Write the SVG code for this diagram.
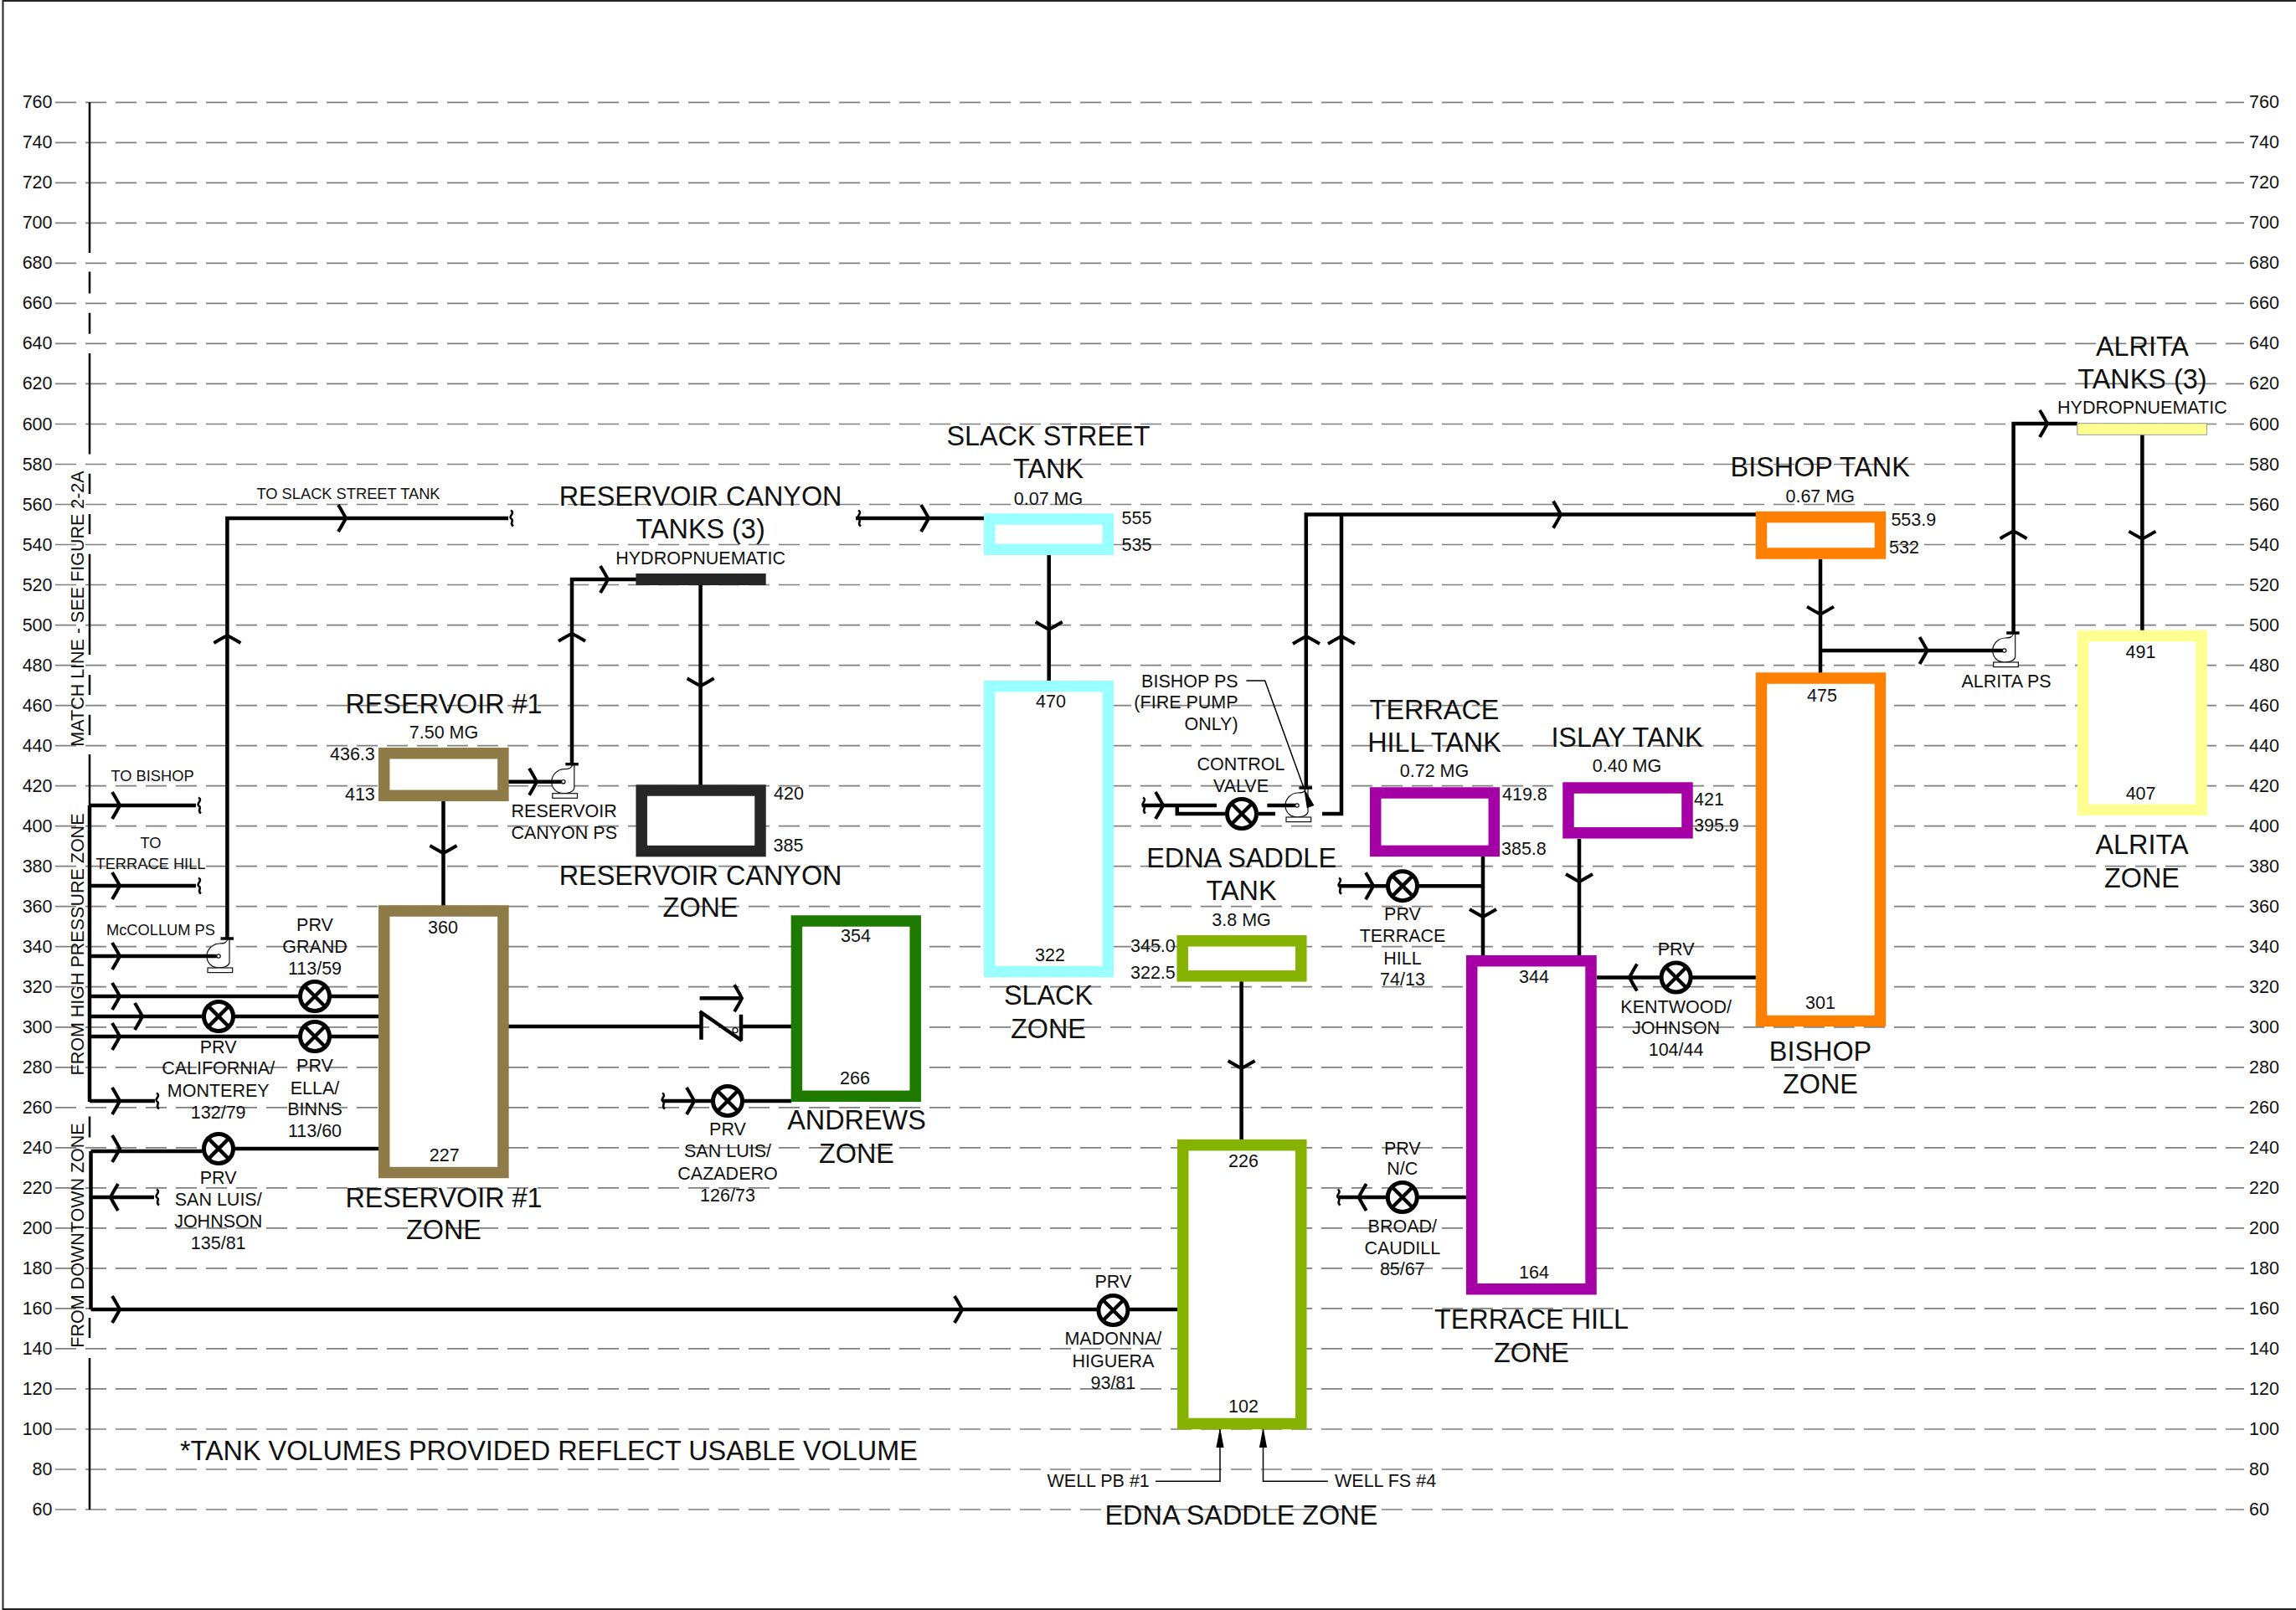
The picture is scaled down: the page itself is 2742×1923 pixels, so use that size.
<svg xmlns="http://www.w3.org/2000/svg" width="2742" height="1923" viewBox="0 0 2742 1923">
<style>
text,tspan{font-family:"Liberation Sans",Arial,sans-serif;fill:#111;dominant-baseline:central}
.s{font-size:21.5px;text-anchor:middle}
.sl{font-size:21.5px;text-anchor:start}
.se{font-size:21.5px;text-anchor:end}
.x{font-size:18.3px;text-anchor:middle}
.b{font-size:32.4px;text-anchor:middle}
.grid{stroke:#808080;stroke-width:1.7;stroke-dasharray:25 11;fill:none}
.axis{stroke:#111;stroke-width:2.6;fill:none}
.pipe{stroke:#000;stroke-width:4.5;fill:none}
.thin{stroke:#000;stroke-width:1.5;fill:none}
.wall{stroke-width:13.5;fill:#fff}
.cyan{stroke:#99ffff}.brown{stroke:#8e7b48}.coal{stroke:#262626}.leaf{stroke:#1f7a00}.lime{stroke:#86b300}.purple{stroke:#a500a5}.orange{stroke:#ff8000}.yellow{stroke:#ffff91}
.chev{stroke:#000;stroke-width:4;fill:none}
.brk{stroke:#000;stroke-width:2.6;fill:none}
.prvc{stroke:#000;stroke-width:5;fill:#fff}
.pm{stroke:#111;stroke-width:1.2;fill:#fff}
</style>
<defs>
<path id="chev" class="chev" d="M-9,-16 Q-3,-6 0,0 Q-3,6 -9,16"/>
<path id="brk" class="brk" d="M-1,-9.5 C5,-6 -5,-2 0,1 C3,3 -3,6 2,9.5"/>
<g id="prv"><circle class="prvc" r="17.5"/><path class="pipe" d="M-12,-12 L12,12 M12,-12 L-12,12"/></g>
<g id="pump">
<path class="pm" d="M11,-21 C10,-16 7,-15 1,-15 C-7,-15 -14,-8 -14,0 C-14,8 -8,14 0,14 C6,14 12,12 13,8 L13,-21 Z"/>
<rect class="pm" x="-13" y="14" width="29.7" height="5.6"/>
<path stroke="#000" stroke-width="3.5" d="M2.5,-21 H18"/>
<circle r="2.2" fill="#fff" stroke="#000" stroke-width="1.2"/>
</g>
<path id="solid" d="M0,0 L-4.6,24 L4.6,24 Z" fill="#000"/>
</defs>
<rect width="2742" height="1923" fill="#fff"/>
<path id="frame" d="M2742,1 H3.5 V1922 H2742" fill="none" stroke="#222" stroke-width="2"/>
<g id="grid">
<path class="grid" d="M66,122.3H2680M66,170.3H2680M66,218.3H2680M66,266.4H2680M66,314.4H2680M66,362.4H2680M66,410.4H2680M66,458.4H2680M66,506.5H2680M66,554.5H2680M66,602.5H2680M66,650.5H2680M66,698.5H2680M66,746.6H2680M66,794.6H2680M66,842.6H2680M66,890.6H2680M66,938.6H2680M66,986.7H2680M66,1034.7H2680M66,1082.7H2680M66,1130.7H2680M66,1178.7H2680M66,1226.8H2680M66,1274.8H2680M66,1322.8H2680M66,1370.8H2680M66,1418.8H2680M66,1466.9H2680M66,1514.9H2680M66,1562.9H2680M66,1610.9H2680M66,1658.9H2680M66,1707H2680M66,1755H2680M66,1803H2680"/>
<g><text class="se" x="62.5" y="122.3">760</text><text class="se" x="62.5" y="170.3">740</text><text class="se" x="62.5" y="218.3">720</text><text class="se" x="62.5" y="266.4">700</text><text class="se" x="62.5" y="314.4">680</text><text class="se" x="62.5" y="362.4">660</text><text class="se" x="62.5" y="410.4">640</text><text class="se" x="62.5" y="458.4">620</text><text class="se" x="62.5" y="506.5">600</text><text class="se" x="62.5" y="554.5">580</text><text class="se" x="62.5" y="602.5">560</text><text class="se" x="62.5" y="650.5">540</text><text class="se" x="62.5" y="698.5">520</text><text class="se" x="62.5" y="746.6">500</text><text class="se" x="62.5" y="794.6">480</text><text class="se" x="62.5" y="842.6">460</text><text class="se" x="62.5" y="890.6">440</text><text class="se" x="62.5" y="938.6">420</text><text class="se" x="62.5" y="986.7">400</text><text class="se" x="62.5" y="1034.7">380</text><text class="se" x="62.5" y="1082.7">360</text><text class="se" x="62.5" y="1130.7">340</text><text class="se" x="62.5" y="1178.7">320</text><text class="se" x="62.5" y="1226.8">300</text><text class="se" x="62.5" y="1274.8">280</text><text class="se" x="62.5" y="1322.8">260</text><text class="se" x="62.5" y="1370.8">240</text><text class="se" x="62.5" y="1418.8">220</text><text class="se" x="62.5" y="1466.9">200</text><text class="se" x="62.5" y="1514.9">180</text><text class="se" x="62.5" y="1562.9">160</text><text class="se" x="62.5" y="1610.9">140</text><text class="se" x="62.5" y="1658.9">120</text><text class="se" x="62.5" y="1707">100</text><text class="se" x="62.5" y="1755">80</text><text class="se" x="62.5" y="1803">60</text></g>
<g><text class="sl" x="2686" y="122.3">760</text><text class="sl" x="2686" y="170.3">740</text><text class="sl" x="2686" y="218.3">720</text><text class="sl" x="2686" y="266.4">700</text><text class="sl" x="2686" y="314.4">680</text><text class="sl" x="2686" y="362.4">660</text><text class="sl" x="2686" y="410.4">640</text><text class="sl" x="2686" y="458.4">620</text><text class="sl" x="2686" y="506.5">600</text><text class="sl" x="2686" y="554.5">580</text><text class="sl" x="2686" y="602.5">560</text><text class="sl" x="2686" y="650.5">540</text><text class="sl" x="2686" y="698.5">520</text><text class="sl" x="2686" y="746.6">500</text><text class="sl" x="2686" y="794.6">480</text><text class="sl" x="2686" y="842.6">460</text><text class="sl" x="2686" y="890.6">440</text><text class="sl" x="2686" y="938.6">420</text><text class="sl" x="2686" y="986.7">400</text><text class="sl" x="2686" y="1034.7">380</text><text class="sl" x="2686" y="1082.7">360</text><text class="sl" x="2686" y="1130.7">340</text><text class="sl" x="2686" y="1178.7">320</text><text class="sl" x="2686" y="1226.8">300</text><text class="sl" x="2686" y="1274.8">280</text><text class="sl" x="2686" y="1322.8">260</text><text class="sl" x="2686" y="1370.8">240</text><text class="sl" x="2686" y="1418.8">220</text><text class="sl" x="2686" y="1466.9">200</text><text class="sl" x="2686" y="1514.9">180</text><text class="sl" x="2686" y="1562.9">160</text><text class="sl" x="2686" y="1610.9">140</text><text class="sl" x="2686" y="1658.9">120</text><text class="sl" x="2686" y="1707">100</text><text class="sl" x="2686" y="1755">80</text><text class="sl" x="2686" y="1803">60</text></g>
</g>
<g id="match-line">
<path class="axis" d="M107,122V302M107,324.6V350.5M107,373.8V398.8M107,422V542.5M107,565.7V590M107,614V638M107,661.7V782M107,806V830M107,853.7V878M107,901V962M107,1333.6V1358.6M107,1574V1598M107,1622V1803"/>
<text class="s" transform="translate(92.5,727) rotate(-90)">MATCH LINE - SEE FIGURE 2-2A</text>
<text class="s" transform="translate(92.5,1128) rotate(-90)">FROM HIGH PRESSURE ZONE</text>
<text class="s" transform="translate(92.5,1475.5) rotate(-90)">FROM DOWNTOWN ZONE</text>
</g>
<g id="pump-mccollum"><use href="#pump" x="261" y="1142"/><text class="x" x="192" y="1110">McCOLLUM PS</text></g>
<g id="pump-canyon"><use href="#pump" x="672.8" y="933.7"/><text class="s"><tspan x="673.7" y="969.3">RESERVOIR</tspan><tspan x="673.7" y="995.3">CANYON PS</tspan></text></g>
<g id="pump-bishop"><use href="#pump" x="1549" y="962"/><text class="se"><tspan x="1478.6" y="813.6">BISHOP PS</tspan><tspan x="1478.6" y="838.6">(FIRE PUMP</tspan><tspan x="1478.6" y="864.6">ONLY)</tspan></text></g>
<g id="pump-alrita"><use href="#pump" x="2393.7" y="777"/><text class="s" x="2396" y="813.6">ALRITA PS</text></g>
<g id="connectors">
<path class="pipe" d="M107,962V1316M107,962H234M107,1058H234M107,1142H258.8M107,1190H452M107,1214H452M107,1238H452M107,1315H185"/>
<path class="pipe" d="M108.5,1375V1564M108.5,1375H261V1372H452M108.5,1430H184M108.5,1564H1406"/>
<path class="pipe" d="M271.4,1121V619H607M1022,619H1175"/>
<path class="pipe" d="M607,933.7H670.6M683,912V692H760M529.5,957V1082M836.6,699V938M1252.7,663V813"/>
<path class="pipe" d="M607,1226H837.5M885,1226H945M792,1315H945M835.6,1192.3H884"/>
<path class="pipe" d="M1482.6,1172V1361"/>
<path class="pipe" d="M1363.8,962H1453M1513.4,962H1546.8M1405.8,962V972H1463M1503,972H1523M1579,972H1602V614.6M1559.8,941V614.6H2098"/>
<path class="pipe" d="M1771,1023V1142M1886,1002V1142M1600,1058.2H1771M1907,1167.5H2097M1598.6,1430H1751"/>
<path class="pipe" d="M2174,668V804M2174,777H2391.5M2404.6,756V506H2481M2558.4,519V753"/>
<path class="pipe" stroke-width="3" d="M837.5,1209.5V1241.7M885,1211.7V1243M835.6,1208L886,1243"/>
<circle cx="878" cy="1230.7" r="3" fill="#fff" stroke="#000" stroke-width="1.2"/>
<path class="thin" d="M1488.4,813H1510.7L1557,941"/>
<use href="#solid" transform="translate(1557,941) rotate(-19.8)"/>
<path class="thin" d="M1457,1705V1769.3H1380M1508.5,1705V1769.3H1585.8"/>
<use href="#solid" x="1457" y="1705"/>
<use href="#solid" x="1508.5" y="1705"/>
<use href="#chev" x="143" y="962"/><use href="#chev" x="143" y="1058"/><use href="#chev" x="143" y="1142"/><use href="#chev" x="143" y="1190"/><use href="#chev" x="170" y="1214"/><use href="#chev" x="143" y="1238"/><use href="#chev" x="143" y="1315"/><use href="#chev" x="143" y="1372"/><use href="#chev" x="143" y="1564"/><use href="#chev" x="1149" y="1564"/>
<use href="#chev" transform="translate(132,1430) rotate(180)"/>
<use href="#chev" x="413" y="619"/><use href="#chev" x="1109" y="619"/><use href="#chev" x="641" y="933.7"/><use href="#chev" x="726" y="692"/>
<use href="#chev" x="886" y="1192.3"/><use href="#chev" x="829" y="1315"/><use href="#chev" x="1389" y="962"/><use href="#chev" x="1864" y="614.6"/><use href="#chev" x="1640" y="1058.2"/><use href="#chev" x="2301.5" y="777"/><use href="#chev" x="2445" y="506"/>
<use href="#chev" transform="translate(1946,1167.5) rotate(180)"/><use href="#chev" transform="translate(1622.7,1430) rotate(180)"/>
<use href="#chev" transform="translate(271.4,759) rotate(-90)"/><use href="#chev" transform="translate(683,756.7) rotate(-90)"/><use href="#chev" transform="translate(1560,760) rotate(-90)"/><use href="#chev" transform="translate(1602,760) rotate(-90)"/><use href="#chev" transform="translate(2404.6,634.3) rotate(-90)"/>
<use href="#chev" transform="translate(529.5,1019) rotate(90)"/><use href="#chev" transform="translate(836.6,819.3) rotate(90)"/><use href="#chev" transform="translate(1252.7,751.7) rotate(90)"/><use href="#chev" transform="translate(1482.6,1276) rotate(90)"/><use href="#chev" transform="translate(1771,1095) rotate(90)"/><use href="#chev" transform="translate(1886,1053) rotate(90)"/><use href="#chev" transform="translate(2174,733.6) rotate(90)"/><use href="#chev" transform="translate(2558.4,643.6) rotate(90)"/>
<use href="#brk" x="238" y="962"/><use href="#brk" x="238" y="1058"/><use href="#brk" x="188" y="1315"/><use href="#brk" x="188" y="1430"/><use href="#brk" x="611" y="619"/><use href="#brk" x="1026" y="619"/><use href="#brk" x="792" y="1315"/><use href="#brk" x="1366" y="962"/><use href="#brk" x="1600" y="1058.2"/><use href="#brk" x="1598.6" y="1430"/>
</g>
<g id="reservoir1-tank"><rect class="wall brown" x="458.7" y="899.7" width="142.2" height="50.6"/><text class="b" x="530" y="841">RESERVOIR #1</text><text class="s" x="530" y="874.5">7.50 MG</text><text class="se" x="447.8" y="900.7">436.3</text><text class="se" x="447.8" y="948.6">413</text></g>
<g id="reservoir1-zone"><rect class="wall brown" x="458.7" y="1088" width="142.2" height="312.5"/><text class="s" x="529" y="1107.9">360</text><text class="s" x="530.8" y="1380">227</text><text class="b"><tspan x="530" y="1431">RESERVOIR #1</tspan><tspan x="530" y="1468.5">ZONE</tspan></text></g>
<g id="canyon-tanks"><rect x="759.4" y="685" width="155.3" height="14" fill="#262626"/><text class="b"><tspan x="836.6" y="593">RESERVOIR CANYON</tspan><tspan x="836.6" y="631.7">TANKS (3)</tspan></text><text class="s" x="836.6" y="667.3">HYDROPNUEMATIC</text></g>
<g id="canyon-zone"><rect class="wall coal" x="766.2" y="944" width="141.8" height="72.6"/><text class="sl" x="924" y="948">420</text><text class="sl" x="923.6" y="1010">385</text><text class="b"><tspan x="836.6" y="1046">RESERVOIR CANYON</tspan><tspan x="836.6" y="1084">ZONE</tspan></text></g>
<g id="slack-tank"><rect class="wall cyan" x="1181.7" y="620" width="141.6" height="36.3"/><text class="b"><tspan x="1252" y="521">SLACK STREET</tspan><tspan x="1252" y="560">TANK</tspan></text><text class="s" x="1252" y="595.7">0.07 MG</text><text class="sl" x="1339.5" y="619">555</text><text class="sl" x="1339.5" y="650.5">535</text></g>
<g id="slack-zone"><rect class="wall cyan" x="1181.7" y="819.7" width="141.6" height="340.8"/><text class="s" x="1255" y="837.7">470</text><text class="s" x="1254" y="1140.7">322</text><text class="b"><tspan x="1252" y="1189.3">SLACK</tspan><tspan x="1252" y="1229">ZONE</tspan></text></g>
<g id="andrews-zone"><rect class="wall leaf" x="951.4" y="1100" width="141.8" height="209.3"/><text class="s" x="1022" y="1117.7">354</text><text class="s" x="1021" y="1287.7">266</text><text class="b"><tspan x="1023" y="1338.3">ANDREWS</tspan><tspan x="1023" y="1377.7">ZONE</tspan></text></g>
<g id="edna-tank"><rect class="wall lime" x="1412.2" y="1123.8" width="141.6" height="42"/><text class="b"><tspan x="1482.6" y="1025.4">EDNA SADDLE</tspan><tspan x="1482.6" y="1063.6">TANK</tspan></text><text class="s" x="1482.6" y="1099.3">3.8 MG</text><text class="sl" x="1350" y="1130">345.0</text><text class="sl" x="1350" y="1161.7">322.5</text></g>
<g id="edna-zone"><rect class="wall lime" x="1412.7" y="1367.7" width="141.1" height="332.8"/><text class="s" x="1485" y="1386.7">226</text><text class="s" x="1485" y="1680">102</text><text class="sl" x="1250.5" y="1769">WELL PB #1</text><text class="sl" x="1594" y="1769">WELL FS #4</text><text class="b" x="1482.4" y="1810">EDNA SADDLE ZONE</text></g>
<g id="terrace-tank"><rect class="wall purple" x="1642.7" y="947" width="141.6" height="69.4"/><text class="b"><tspan x="1713" y="847.5">TERRACE</tspan><tspan x="1713" y="886.8">HILL TANK</tspan></text><text class="s" x="1713" y="921.4">0.72 MG</text><text class="sl" x="1794" y="949">419.8</text><text class="sl" x="1793" y="1014.3">385.8</text></g>
<g id="terrace-zone"><rect class="wall purple" x="1757.7" y="1147.7" width="142.3" height="392"/><text class="s" x="1832" y="1166.8">344</text><text class="s" x="1832" y="1520.4">164</text><text class="b"><tspan x="1829" y="1575.6">TERRACE HILL</tspan><tspan x="1829" y="1616">ZONE</tspan></text></g>
<g id="islay-tank"><rect class="wall purple" x="1873" y="941" width="142" height="53.8"/><text class="b" x="1943" y="880.7">ISLAY TANK</text><text class="s" x="1943" y="915.4">0.40 MG</text><text class="sl" x="2023" y="955">421</text><text class="sl" x="2023" y="986">395.9</text></g>
<g id="bishop-tank"><rect class="wall orange" x="2103.5" y="617.6" width="142" height="43.4"/><text class="b" x="2173.7" y="557.5">BISHOP TANK</text><text class="s" x="2173.7" y="592.5">0.67 MG</text><text class="sl" x="2258.4" y="620.7">553.9</text><text class="sl" x="2256" y="654">532</text></g>
<g id="bishop-zone"><rect class="wall orange" x="2103.5" y="810" width="142" height="409.5"/><text class="s" x="2176" y="830.7">475</text><text class="s" x="2174" y="1197.5">301</text><text class="b"><tspan x="2174" y="1255.5">BISHOP</tspan><tspan x="2174" y="1295">ZONE</tspan></text></g>
<g id="alrita-tanks"><rect x="2480.8" y="505.7" width="154.8" height="13.6" fill="#ffff91" stroke="#999" stroke-width="1"/><text class="b"><tspan x="2558.4" y="414">ALRITA</tspan><tspan x="2558.4" y="452.5">TANKS (3)</tspan></text><text class="s" x="2558.4" y="487">HYDROPNUEMATIC</text></g>
<g id="alrita-zone"><rect class="wall yellow" x="2487.5" y="759.5" width="141.4" height="207.7"/><text class="s" x="2556.5" y="779">491</text><text class="s" x="2556.6" y="947.6">407</text><text class="b"><tspan x="2558" y="1009">ALRITA</tspan><tspan x="2558" y="1048.7">ZONE</tspan></text></g>
<g id="prv-grand"><use href="#prv" x="376" y="1190"/><text class="s"><tspan x="376" y="1105">PRV</tspan><tspan x="376" y="1130.7">GRAND</tspan><tspan x="376" y="1157">113/59</tspan></text></g>
<g id="prv-california"><use href="#prv" x="261" y="1214"/><text class="s"><tspan x="260.7" y="1251.4">PRV</tspan><tspan x="260.7" y="1276.4">CALIFORNIA/</tspan><tspan x="260.7" y="1302.5">MONTEREY</tspan><tspan x="260.7" y="1329">132/79</tspan></text></g>
<g id="prv-ella"><use href="#prv" x="376" y="1238"/><text class="s"><tspan x="376" y="1272.9">PRV</tspan><tspan x="376" y="1299.6">ELLA/</tspan><tspan x="376" y="1324.6">BINNS</tspan><tspan x="376" y="1350.7">113/60</tspan></text></g>
<g id="prv-sanluis-johnson"><use href="#prv" x="261" y="1372"/><text class="s"><tspan x="260.7" y="1407">PRV</tspan><tspan x="260.7" y="1433">SAN LUIS/</tspan><tspan x="260.7" y="1459">JOHNSON</tspan><tspan x="260.7" y="1484.7">135/81</tspan></text></g>
<g id="prv-sanluis-cazadero"><use href="#prv" x="869" y="1315"/><text class="s"><tspan x="869" y="1349.3">PRV</tspan><tspan x="869" y="1375.3">SAN LUIS/</tspan><tspan x="869" y="1401.7">CAZADERO</tspan><tspan x="869" y="1427.7">126/73</tspan></text></g>
<g id="prv-madonna"><use href="#prv" x="1329.4" y="1565"/><text class="s"><tspan x="1329.4" y="1531.3">PRV</tspan><tspan x="1329.4" y="1599.3">MADONNA/</tspan><tspan x="1329.4" y="1625.7">HIGUERA</tspan><tspan x="1329.4" y="1652">93/81</tspan></text></g>
<g id="valve-control"><use href="#prv" x="1483" y="972"/><text class="s"><tspan x="1482" y="912.5">CONTROL</tspan><tspan x="1482" y="938.6">VALVE</tspan></text></g>
<g id="prv-terrace"><use href="#prv" x="1675" y="1058.2"/><text class="s"><tspan x="1675" y="1092">PRV</tspan><tspan x="1675" y="1118">TERRACE</tspan><tspan x="1675" y="1144.6">HILL</tspan><tspan x="1675" y="1170">74/13</tspan></text></g>
<g id="prv-broad"><use href="#prv" x="1674.8" y="1430"/><text class="s"><tspan x="1674.8" y="1371.8">PRV</tspan><tspan x="1674.8" y="1396.4">N/C</tspan><tspan x="1674.8" y="1464.6">BROAD/</tspan><tspan x="1674.8" y="1490.7">CAUDILL</tspan><tspan x="1674.8" y="1516.4">85/67</tspan></text></g>
<g id="prv-kentwood"><use href="#prv" x="2001.6" y="1167.5"/><text class="s"><tspan x="2001.6" y="1133.6">PRV</tspan><tspan x="2001.6" y="1202.5">KENTWOOD/</tspan><tspan x="2001.6" y="1227.5">JOHNSON</tspan><tspan x="2001.6" y="1254">104/44</tspan></text></g>
<g id="labels">
<text class="x" x="182" y="926.4">TO BISHOP</text>
<text class="x"><tspan x="180" y="1005.7">TO</tspan><tspan x="180" y="1031.4">TERRACE HILL</tspan></text>
<text class="x" x="416" y="589">TO SLACK STREET TANK</text>
<text font-size="32.4" x="215" y="1733">*TANK VOLUMES PROVIDED REFLECT USABLE VOLUME</text>
</g>
</svg>
